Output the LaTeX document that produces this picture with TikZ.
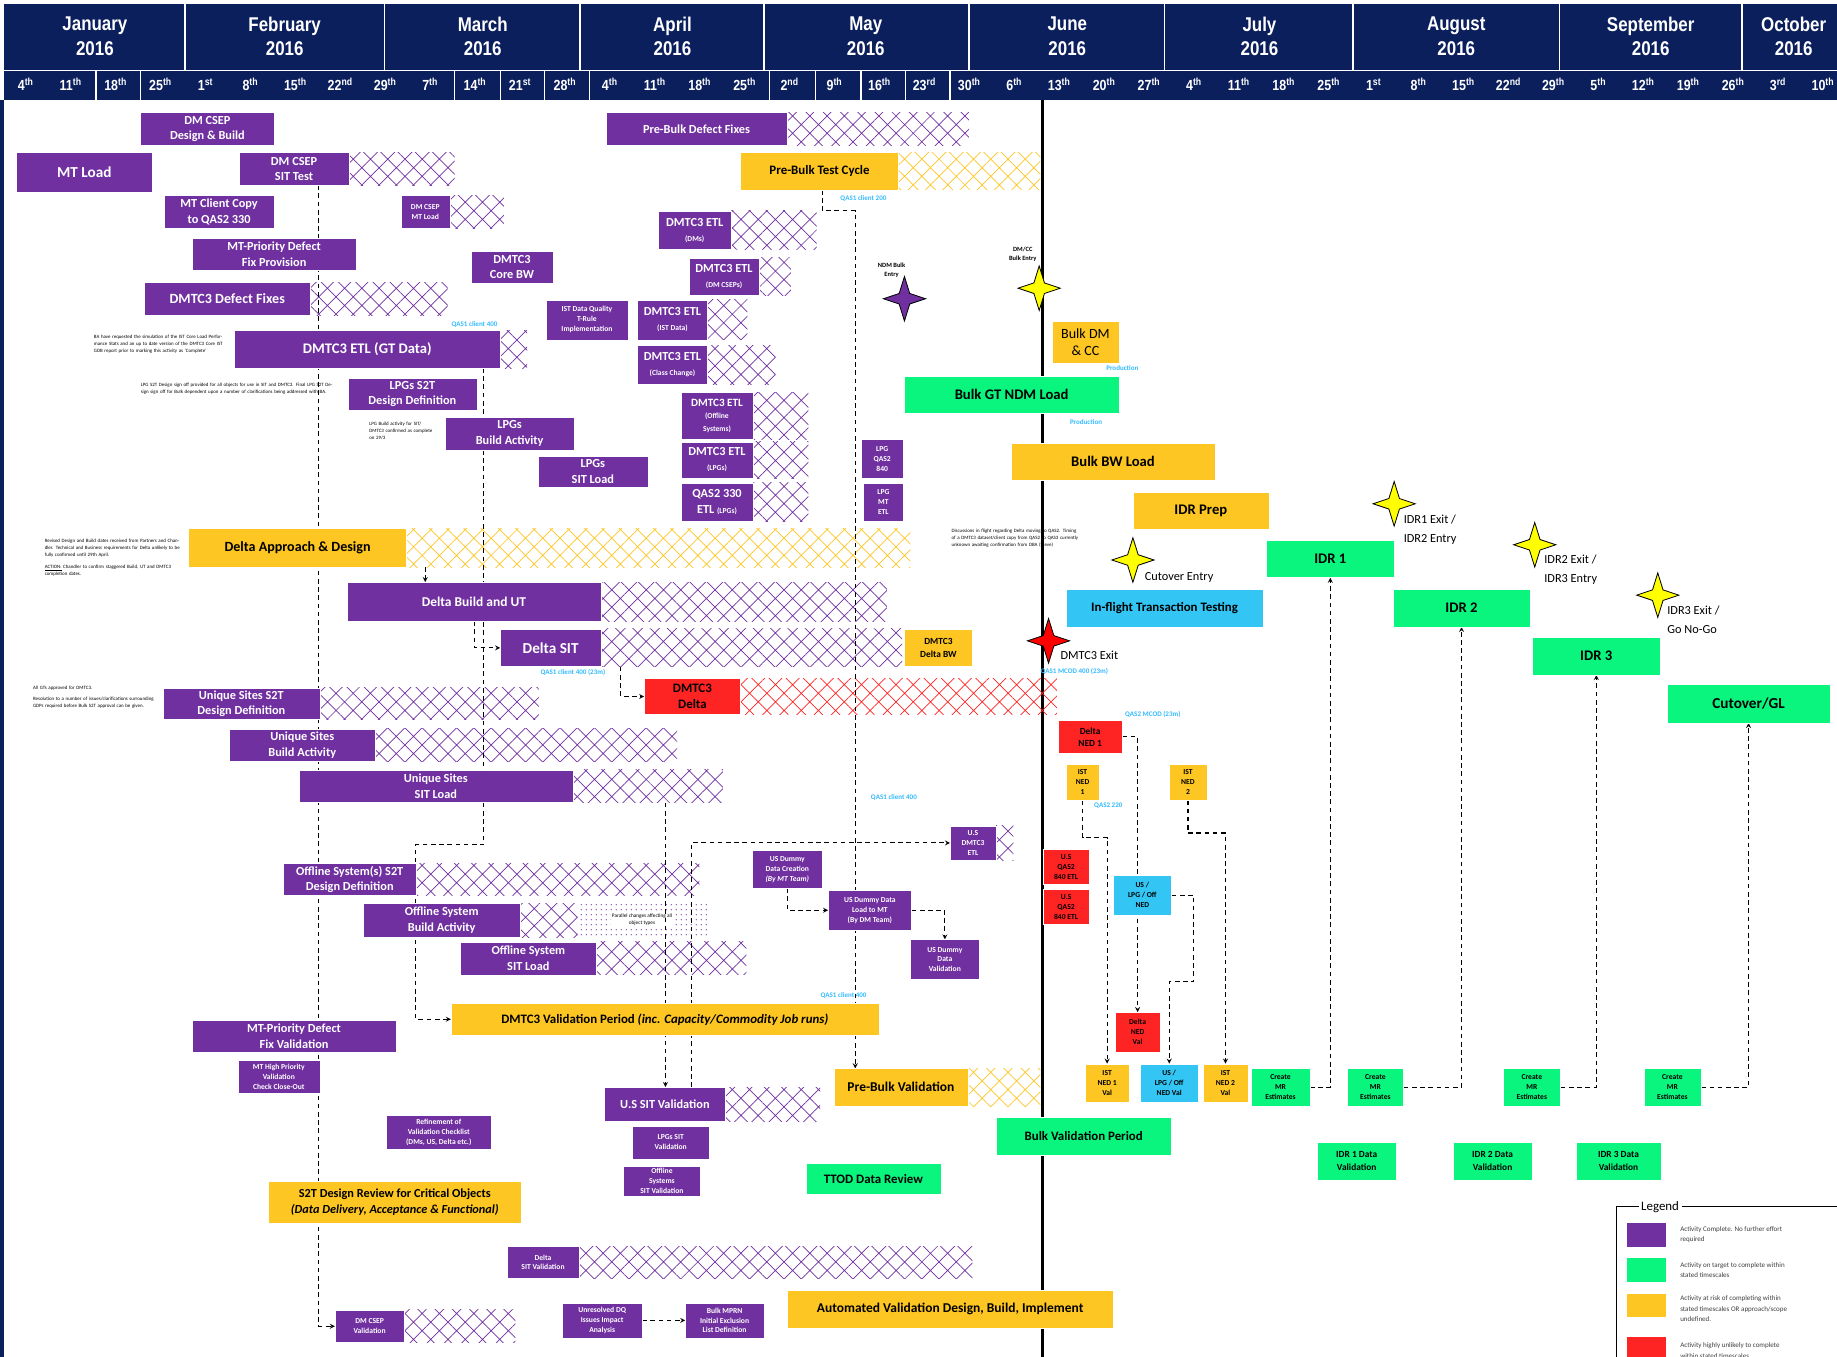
\documentclass[tikz,border=0pt]{standalone}
\usepackage{fontspec}
\setmainfont{Carlito}
\newfontfamily\hdrfont[FakeStretch=0.85]{Liberation Sans}
\usetikzlibrary{patterns.meta,backgrounds}

\definecolor{dmpurple}{HTML}{7030A0}
\definecolor{dmgreen}{HTML}{0AF57E}
\definecolor{dmyellow}{HTML}{FDC623}
\definecolor{dmred}{HTML}{FF2424}
\definecolor{dmblue}{HTML}{33C6F4}
\definecolor{hdrnavy}{HTML}{0B1F5C}
\definecolor{qascyan}{HTML}{33BBFF}
\definecolor{msyellow}{HTML}{FFFF00}

\newcommand\subl[1]{{\fontsize{6.5}{8}\selectfont #1}}

\begin{document}
\begin{tikzpicture}[x=1pt, y=-1pt, >=stealth,
    every node/.style={inner sep=1pt, align=center},
    bar/.style={rectangle, draw=white, line width=0.3pt, font=\bfseries\fontsize{10.5}{13}\selectfont},
    pb/.style={bar, fill=dmpurple, text=white},
    yb/.style={bar, fill=dmyellow, text=black},
    gb/.style={bar, fill=dmgreen, text=black},
    rb/.style={bar, fill=dmred, text=black},
    bb/.style={bar, fill=dmblue, text=black},
    sz/.style 2 args={minimum width=#1pt, minimum height=#2pt},
    fs/.style={font=\bfseries\fontsize{#1}{#1}\selectfont},
    sml/.style={font=\bfseries\fontsize{8}{10.5}\selectfont},
    tny/.style={font=\bfseries\fontsize{6.5}{8.5}\selectfont},
    month/.style={text=white, font=\hdrfont\bfseries\fontsize{17}{21}\selectfont},
    week/.style={text=white, font=\hdrfont\bfseries\fontsize{12.5}{14}\selectfont},
    qas/.style={text=qascyan, font=\bfseries\fontsize{6}{7}\selectfont, inner sep=0pt},
    note/.style={font=\fontsize{4.2}{6}\selectfont, align=left, anchor=north west, inner sep=0pt},
    mslab/.style={font=\fontsize{10.5}{16}\selectfont, align=left, anchor=west, inner sep=0pt},
    lgtxt/.style={font=\fontsize{6}{9}\selectfont, align=left, anchor=west, text=black!75},
    hatchp/.style={pattern={Hatch[angle=45,distance=10.4pt,line width=0.6pt]}, pattern color=dmpurple},
    hatchy/.style={pattern={Hatch[angle=45,distance=10.4pt,line width=0.6pt]}, pattern color=dmyellow},
    hatchr/.style={pattern={Hatch[angle=45,distance=10.4pt,line width=0.6pt]}, pattern color=dmred},
    dotsp/.style={pattern={Dots[distance=4pt,radius=0.55pt]}, pattern color=dmpurple},
    dep/.style={line width=0.9pt, dash pattern=on 4pt off 3pt},
    milestone/.style={draw=black, line width=0.7pt},
    spark/.pic={\path[pic actions] (0,-19) -- (4.5,-4.5) -- (18,0) -- (4.5,4.5) -- (0,19) -- (-4.5,4.5) -- (-18,0) -- (-4.5,-4.5) -- cycle;}
  ]
  \useasboundingbox (0,0) rectangle (1568,1158);

  % header
  \fill[hdrnavy] (3,3) rectangle (1568,85);
  \fill[hdrnavy] (0,85) rectangle (3,1158);
  \foreach \x in {158,328,495,652,827,994,1155,1331,1487}
    \draw[white, line width=1.2pt] (\x,3) -- (\x,60);
  \draw[white, line width=1.2pt] (3,60) -- (1568,60);
  \foreach \x in {82,120,388,427,465,503,657,696,735,773,811}
    \draw[white, line width=1.2pt] (\x,60) -- (\x,85);
  \foreach \m/\x in {January/81, February/243, March/412, April/574, May/739,
                     June/911, July/1075, August/1243, September/1409, October/1531}
    \node[month] (m-\m) at (\x,31) {\m\\2016};
  \foreach \d/\s [count=\i from 0] in {4/th,11/th,18/th,25/th,1/st,8/th,15/th,22/nd,29/th,7/th,14/th,21/st,28/th,
      4/th,11/th,18/th,25/th,2/nd,9/th,16/th,23/rd,30/th,6/th,13/th,20/th,27/th,4/th,11/th,18/th,25/th,
      1/st,8/th,15/th,22/nd,29/th,5/th,12/th,19/th,26/th,3/rd,10/th}
    \node[week] (w\i) at ({22+38.35*\i},72) {\d\textsuperscript{\s}};

  % purple activities (complete)
  \node[pb, sz={114}{28}] (dmdb) at (177,110) {DM CSEP\\Design \& Build};
  \node[pb, fs=13, sz={116}{34}] (mtload) at (72,147) {MT Load};
  \node[pb, sz={94}{28}] (dmsit) at (251,144) {DM CSEP\\SIT Test};
  \node[pb, sz={94}{28}] (mtcc) at (187,181) {MT Client Copy\\to QAS2 330};
  \node[pb, tny, sz={42}{28}] (dmmt) at (363,181) {DM CSEP\\MT Load};
  \node[pb, sz={140}{28}] (mtpdf) at (234,217) {MT-Priority Defect\\Fix Provision};
  \node[pb, sz={70}{28}] (corebw) at (437,228) {DMTC3\\Core BW};
  \node[pb, fs=12, sz={142}{28}] (defect) at (194,255) {DMTC3 Defect Fixes};
  \node[pb, fs=12.5, sz={227}{32}] (etlgt) at (313.5,298) {DMTC3 ETL (GT Data)};
  \node[pb, tny, sz={70}{34}] (istdq) at (501,273) {IST Data Quality\\T-Rule\\Implementation};
  \node[pb, sz={60}{34}] (etlist) at (574,273) {DMTC3 ETL\\\subl{(IST Data)}};
  \node[pb, sz={60}{33}] (etlcc) at (574,311.5) {DMTC3 ETL\\\subl{(Class Change)}};
  \node[pb, sz={62}{33}] (etldm) at (593,196.5) {DMTC3 ETL\\\subl{(DMs)}};
  \node[pb, sz={60}{32}] (etlcsep) at (618,236) {DMTC3 ETL\\\subl{(DM CSEPs)}};
  \node[pb, fs=10.5, sz={155}{28}] (pbdf) at (594.5,110) {Pre-Bulk Defect Fixes};
  \node[pb, sz={110}{27}] (lpgs2t) at (352,336.5) {LPGs S2T\\Design Definition};
  \node[pb, sz={110}{28}] (lpgba) at (435,370) {LPGs\\Build Activity};
  \node[pb, sz={94}{27}] (lpgsit) at (506,402.5) {LPGs\\SIT Load};
  \node[pb, font=\bfseries\fontsize{9.5}{11}\selectfont, sz={62}{40}] (etloff) at (612,355) {DMTC3 ETL\\\subl{(Offline}\\\subl{Systems)}};
  \node[pb, sz={62}{31}] (etllpg) at (612,392.5) {DMTC3 ETL\\\subl{(LPGs)}};
  \node[pb, sz={62}{33}] (qas2etl) at (612,428.5) {QAS2 330\\ETL \subl{(LPGs)}};
  \node[pb, tny, sz={36}{33}] (lpg840) at (753,391.5) {LPG\\QAS2\\840};
  \node[pb, tny, sz={34}{33}] (lpgmt) at (754,428.5) {LPG\\MT\\ETL};
  \node[pb, fs=11.5, sz={217}{33}] (dbut) at (404.5,513.5) {Delta Build and UT};
  \node[pb, fs=13, sz={86}{32}] (dsit) at (470,553) {Delta SIT};
  \node[pb, sz={134}{27}] (uss2t) at (206,600.5) {Unique Sites S2T\\Design Definition};
  \node[pb, sz={124}{28}] (usba) at (258,636) {Unique Sites\\Build Activity};
  \node[pb, sz={234}{28}] (ussit) at (372,671) {Unique Sites\\SIT Load};
  \node[pb, sz={113}{27}] (offs2t) at (298.5,750.5) {Offline System(s) S2T\\Design Definition};
  \node[pb, sz={134}{29}] (offba) at (377,785.5) {Offline System\\Build Activity};
  \node[pb, sz={116}{28}] (offsit) at (451,818) {Offline System\\SIT Load};
  \node[pb, tny, sz={39}{29}] (usetl) at (830.5,719.5) {U.S\\DMTC3\\ETL};
  \node[pb, tny, sz={60}{32}] (usdc) at (672,742) {US Dummy\\Data Creation\\{\itshape (By MT Team)}};
  \node[pb, tny, sz={71}{34}] (usdl) at (742.5,777) {US Dummy Data\\Load to MT\\(By DM Team)};
  \node[pb, tny, sz={59}{34}] (usdv) at (806.5,819) {US Dummy\\Data\\Validation};
  \node[pb, sz={174}{27}] (mtpfv) at (251,884.5) {MT-Priority Defect\\Fix Validation};
  \node[pb, tny, sz={70}{28}] (mthp) at (238,919) {MT High Priority\\Validation\\Check Close-Out};
  \node[pb, tny, sz={89}{29}] (refine) at (374.5,966.5) {Refinement of\\Validation Checklist\\(DMs, US, Delta etc.)};
  \node[pb, fs=10.5, sz={103}{29}] (ussitv) at (567.5,942.5) {U.S SIT Validation};
  \node[pb, tny, sz={65}{28}] (lpgsitv) at (572.5,975) {LPGs SIT\\Validation};
  \node[pb, tny, sz={66}{26}] (offsitv) at (565,1008) {Offline\\Systems\\SIT Validation};
  \node[pb, tny, sz={61}{27}] (dsitv) at (463.5,1077.5) {Delta\\SIT Validation};
  \node[pb, tny, sz={59}{28}] (dmval) at (315.5,1132) {DM CSEP\\Validation};
  \node[pb, tny, sz={68}{30}] (unres) at (514,1127) {Unresolved DQ\\Issues Impact\\Analysis};
  \node[pb, tny, sz={67}{30}] (mprn) at (618.5,1127) {Bulk MPRN\\Initial Exclusion\\List Definition};

  % yellow activities (at risk)
  \node[yb, fs=11, sz={135}{32}] (pbtc) at (699.5,146) {Pre-Bulk Test Cycle};
  \node[yb, font=\fontsize{12}{15}\selectfont, sz={57}{36}] (bulkdm) at (926.5,292) {Bulk DM\\\& CC};
  \node[yb, fs=12.5, sz={174}{32}] (bulkbw) at (950,394) {Bulk BW Load};
  \node[yb, fs=12.5, sz={116}{32}] (idrprep) at (1025,436) {IDR Prep};
  \node[yb, fs=12, sz={186}{33}] (dad) at (254,467.5) {Delta Approach \& Design};
  \node[yb, sml, sz={58}{32}] (dbw) at (801,553) {DMTC3\\Delta BW};
  \node[yb, tny, sz={28}{31}] (istned1) at (924,667.5) {IST\\NED\\1};
  \node[yb, tny, sz={32}{31}] (istned2) at (1014,667.5) {IST\\NED\\2};
  \node[yb, tny, sz={38}{33}] (istv1) at (945,924.5) {IST\\NED 1\\Val};
  \node[yb, tny, sz={38}{33}] (istv2) at (1046,924.5) {IST\\NED 2\\Val};
  \node[yb, fs=11, sz={365}{28}] (dvp) at (567.5,870) {DMTC3 Validation Period {\itshape (inc. Capacity/Commodity Job runs)}};
  \node[yb, fs=11.5, sz={114}{32}] (pbv) at (769,928) {Pre-Bulk Validation};
  \node[yb, sz={216}{36}] (s2trev) at (337,1026) {S2T Design Review for Critical Objects\\{\itshape (Data Delivery, Acceptance \& Functional)}};
  \node[yb, fs=11.5, sz={278}{33}] (avd) at (811,1117.5) {Automated Validation Design, Build, Implement};

  % green activities (on target)
  \node[gb, fs=12.5, sz={183}{32}] (bgnl) at (863.5,337) {Bulk GT NDM Load};
  \node[gb, fs=12.5, sz={109}{32}] (idr1) at (1135.5,477) {IDR 1};
  \node[gb, fs=12.5, sz={117}{32}] (idr2) at (1247.5,519) {IDR 2};
  \node[gb, fs=12.5, sz={109}{32}] (idr3) at (1362.5,560) {IDR 3};
  \node[gb, fs=13, sz={139}{33}] (cgl) at (1492.5,600.5) {Cutover/GL};
  \node[gb, tny, sz={50}{32}] (mr1) at (1093,928) {Create\\MR\\Estimates};
  \node[gb, tny, sz={48}{32}] (mr2) at (1174,928) {Create\\MR\\Estimates};
  \node[gb, tny, sz={49}{32}] (mr3) at (1307.5,928) {Create\\MR\\Estimates};
  \node[gb, tny, sz={49}{32}] (mr4) at (1427.5,928) {Create\\MR\\Estimates};
  \node[gb, fs=11, sz={150}{32}] (bvp) at (925,970) {Bulk Validation Period};
  \node[gb, sml, sz={68}{32}] (idrdv1) at (1158,991) {IDR 1 Data\\Validation};
  \node[gb, sml, sz={68}{32}] (idrdv2) at (1274,991) {IDR 2 Data\\Validation};
  \node[gb, sml, sz={73}{32}] (idrdv3) at (1381.5,991) {IDR 3 Data\\Validation};
  \node[gb, fs=11, sz={115}{26}] (ttod) at (745.5,1006) {TTOD Data Review};

  % red activities (unlikely)
  \node[rb, font=\bfseries\fontsize{11}{14}\selectfont, sz={82}{31}] (dmtcd) at (591,594.5) {DMTC3\\Delta};
  \node[rb, sml, sz={55}{28}] (dned1) at (930.5,629) {Delta\\NED 1};
  \node[rb, tny, sz={40}{30}] (usq1) at (910,740) {U.S\\QAS2\\840 ETL};
  \node[rb, tny, sz={40}{30}] (usq2) at (910,774) {U.S\\QAS2\\840 ETL};
  \node[rb, tny, sz={38}{34}] (dnedv) at (971,881) {Delta\\NED\\Val};

  % blue activities
  \node[bb, fs=11, sz={168}{32}] (ift) at (994,519) {In-flight Transaction Testing};
  \node[bb, tny, sz={50}{34}] (uslpg) at (975,764) {US /\\LPG / Off\\NED};
  \node[bb, tny, sz={50}{33}] (uslpgv) at (998,924.5) {US /\\LPG / Off\\NED Val};

  % milestones
  \pic[milestone, fill=dmpurple] (ndm) at (772,255) {spark};
  \pic[milestone, fill=msyellow] (dmcc) at (887,246) {spark};
  \pic[milestone, fill=red] (dmx) at (895,547) {spark};
  \pic[milestone, fill=msyellow] (cut) at (967,478) {spark};
  \pic[milestone, fill=msyellow] (ms1) at (1190,430) {spark};
  \pic[milestone, fill=msyellow] (ms2) at (1310,465) {spark};
  \pic[milestone, fill=msyellow] (ms3) at (1415,508) {spark};
  \node[tny, font=\bfseries\fontsize{5.5}{7.5}\selectfont] (ndmlab) at (761,231) {NDM Bulk\\Entry};
  \node[tny, font=\bfseries\fontsize{5.5}{7.5}\selectfont] (dmcclab) at (873,217) {DM/CC\\Bulk Entry};
  \node[mslab] (dmxlab) at (905,559) {DMTC3 Exit};
  \node[mslab] (cutlab) at (977,493) {Cutover Entry};
  \node[mslab] (ms1lab) at (1198,452) {IDR1 Exit /\\IDR2 Entry};
  \node[mslab] (ms2lab) at (1318,486) {IDR2 Exit /\\IDR3 Entry};
  \node[mslab] (ms3lab) at (1423,529) {IDR3 Exit /\\Go No-Go};

  % environment labels
  \node[qas] (q1) at (405,277) {QAS1 client 400};
  \node[qas] (q2) at (737,169) {QAS1 client 200};
  \node[qas] (q3) at (958,314) {Production};
  \node[qas] (q4) at (927,360) {Production};
  \node[qas] (q5) at (489,574) {QAS1 client 400 (23m)};
  \node[qas] (q6) at (917,573) {QAS1 MCOD 400 (23m)};
  \node[qas] (q7) at (984,610) {QAS2 MCOD (23m)};
  \node[qas] (q8) at (946,688) {QAS2 220};
  \node[qas] (q9) at (763,681) {QAS1 client 400};
  \node[qas] (q10) at (720,850) {QAS1 client 400};

  % comments
  \node[note, text width=112pt] (n1) at (80,286) {BA have requested the simulation of the IST Core Load Performance Stats and an up to date version of the DMTC3 Core IST GDB report prior to marking this activity as `Complete'};
  \node[note, text width=168pt] (n2) at (120,327) {LPG S2T Design sign off provided for all objects for use in SIT and DMTC3. Final LPG S2T Design sign off for Bulk dependent upon a number of clarifications being addressed with BA.};
  \node[note, text width=55pt] (n3) at (315,360) {LPG Build activity for SIT/ DMTC3 confirmed as complete on 29/3};
  \node[note, text width=116pt] (n4) at (38,460) {Revised Design and Build dates received from Partners and Chandler. Technical and Business requirements for Delta unlikely to be fully confirmed until 29th April.\\[4pt]\underline{ACTION:} Chandler to confirm staggered Build, UT and DMTC3 completion dates.};
  \node[note, text width=108pt] (n5) at (28,585) {All GTs approved for DMTC3.\\[4pt]Resolution to a number of issues/clarifications surrounding GDPs required before Bulk S2T approval can be given.};
  \node[note, text width=112pt] (n6) at (812,451) {Discussions in flight regarding Delta moving to QAS2. Timing of a DMTC3 dataset/client copy from QAS2 to QAS3 currently unknown awaiting confirmation from DBA (Steve)};

  % legend
  \node[font=\fontsize{11}{13}\selectfont, inner sep=2pt] (lgd) at (1417,1030) {Legend};
  \draw[line width=1pt] (lgd.west) -| (1380,1170);
  \draw[line width=1pt] (lgd.east) -- (1580,1030);
  \node[fill=dmpurple, draw=white, sz={34}{21}] (lg1) at (1405,1054) {};
  \node[fill=dmgreen, draw=white, sz={34}{21}] (lg2) at (1405,1084) {};
  \node[fill=dmyellow, draw=white, sz={34}{21}] (lg3) at (1405,1114) {};
  \node[fill=dmred, draw=white, sz={34}{21}] (lg4) at (1405,1151) {};
  \node[lgtxt] (lt1) at (1433,1054) {Activity Complete. No further effort\\required};
  \node[lgtxt] (lt2) at (1433,1084) {Activity on target to complete within\\stated timescales};
  \node[lgtxt] (lt3) at (1433,1117) {Activity at risk of completing within\\stated timescales OR approach/scope\\undefined.};
  \node[lgtxt] (lt4) at (1433,1153) {Activity highly unlikely to complete\\within stated timescales.};

  \begin{scope}[on background layer]
    \fill[white] (0,85) rectangle (1568,1158);
    % today line
    \draw[line width=2.4pt] (890,85) -- (890,1160);
    % remaining effort
    \foreach \n/\e in {dmsit/388, dmmt/430, defect/382, etlgt/450, etlist/638, etlcc/662, etldm/697,
        etlcsep/675, pbdf/827, etloff/690, etllpg/690, qas2etl/690, dbut/757, dsit/770, uss2t/460,
        usba/578, ussit/617, offs2t/597, offba/493, offsit/637, usetl/865, ussitv/700, dsitv/830, dmval/440}
      \fill[hatchp] (\n.north east) rectangle (\n.south -| \e,0);
    \foreach \n/\e in {pbtc/888, dad/777, pbv/888}
      \fill[hatchy] (\n.north east) rectangle (\n.south -| \e,0);
    \fill[hatchr] (dmtcd.north east) rectangle (dmtcd.south -| 902,0);
    \fill[dotsp] (offba.north -| 493,0) rectangle (offba.south -| 604,0);
    \node[font=\fontsize{4.5}{5.5}\selectfont, fill=white, inner sep=0.5pt] (par) at (548,785) {Parallel changes affecting all\\object types};

    % dependencies
    \draw[dep, ->] (dmsit.south -| 272,0) |- (dmval.west);
    \draw[dep, ->] (etlgt.south -| 413,0) |- (355,721) |- (dvp.west);
    \draw[dep, ->] (pbtc.south -| 702,0) |- (730,180) -- (pbv.north -| 730,0);
    \draw[dep, ->] (dad.south -| 363,0) -- (dbut.north -| 363,0);
    \draw[dep, ->] (dbut.south -| 405,0) |- (dsit.west);
    \draw[dep, ->] (dsit.south -| 530,0) |- (dmtcd.west);
    \draw[dep, ->] (ussit.south -| 568,0) -- (ussitv.north -| 568,0);
    \draw[dep, ->] (ussitv.north -| 590,0) |- (usetl.west);
    \draw[dep, ->] (usdc.south) |- (usdl.west);
    \draw[dep, ->] (usdl.east) -| (usdv.north);
    \draw[dep, ->] (unres.east) -- (mprn.west);
    \draw[dep, ->] (dned1.east) -| (dnedv.north);
    \draw[dep, ->] (istned1.south) |- (945,715) -- (istv1.north);
    \draw[dep, ->] (istned2.south) |- (1046,711) -- (istv2.north);
    \draw[dep, ->] (uslpg.east) -| (1019,838) -| (uslpgv.north);
    \draw[dep, ->] (mr1.east) -| (idr1.south);
    \draw[dep, ->] (mr2.east) -| (idr2.south);
    \draw[dep, ->] (mr3.east) -| (idr3.south);
    \draw[dep, ->] (mr4.east) -| (cgl.south);
  \end{scope}
\end{tikzpicture}
\end{document}
